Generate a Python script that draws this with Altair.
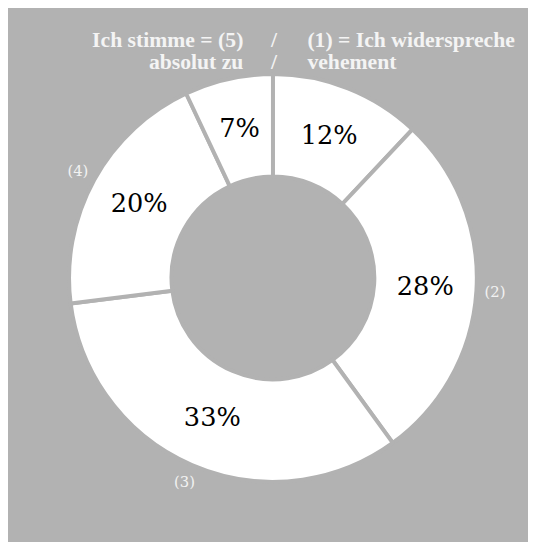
import altair as alt
import pandas as pd

categories = ["(1)", "(2)", "(3)", "(4)", "(5)"]
values = [12, 28, 33, 20, 7]
pct_labels = ["12%", "28%", "33%", "20%", "7%"]
outer_labels = ["", "(2)", "(3)", "(4)", ""]
order_idx = [1, 2, 3, 4, 5]

header_left = ["Ich stimme = (5)", "absolut zu"]
header_right = ["(1) = Ich widerspreche", "vehement"]
slash = ["/", "/"]

BG = "#b2b2b2"
CX, CY = 269, 270

df = pd.DataFrame({
    "cat": categories,
    "value": values,
    "pct": pct_labels,
    "outer": outer_labels,
    "ord": order_idx,
})

base = alt.Chart(df).encode(
    theta=alt.Theta("value:Q", stack=True),
    order=alt.Order("ord:Q"),
    x=alt.value(CX),
    y=alt.value(CY),
)

arcs = base.mark_arc(
    innerRadius=103, outerRadius=207, fill="white", stroke=BG, strokeWidth=4
)

pct_text = base.mark_text(
    radius=155, font="DejaVu Serif", fontSize=26, color="black", baseline="middle"
).encode(text="pct:N")

outer_text = base.mark_text(
    radius=226, font="DejaVu Serif", fontSize=15, color="#f2f2f2", baseline="middle"
).encode(text="outer:N")

def header(lines, xpos, align):
    layers = []
    for i, t in enumerate(lines):
        layers.append(
            alt.Chart(pd.DataFrame({"t": [t]})).mark_text(
                font="Liberation Serif", fontSize=22, fontWeight="bold",
                color="#f4f4f4", align=align, baseline="alphabetic",
            ).encode(text="t:N", x=alt.value(xpos[i]), y=alt.value(35 + 23 * i))
        )
    return layers

layers = [arcs, pct_text, outer_text]
layers += header(header_left, [239, 239], "right")
layers += header(slash, [270, 270], "center")
layers += header(header_right, [304, 304], "left")

chart = alt.layer(*layers).properties(
    width=528, height=535, background=BG, padding=0,
    autosize=alt.AutoSizeParams(type="none"),
).configure_view(stroke=None)

chart.save("out.html", embed_options={"renderer": "svg", "actions": False})
